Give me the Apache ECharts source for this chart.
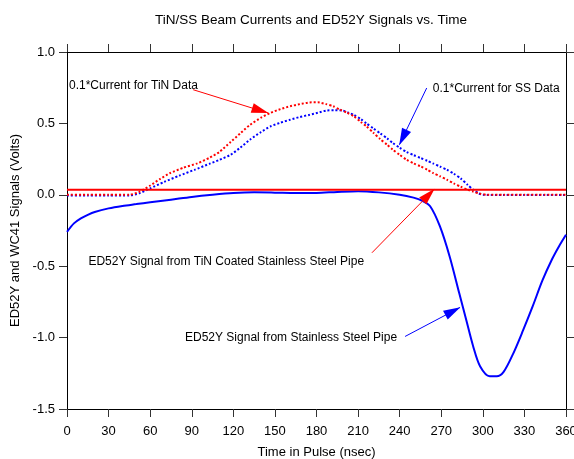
<!DOCTYPE html>
<html lang="en">
<head>
    <meta charset="UTF-8">
    <title>TiN/SS Beam Currents</title>
    <script type="text/javascript" src="https://cdn.jsdelivr.net/npm/echarts@6/dist/echarts.min.js"></script>
    <style>
      html, body { margin: 0; padding: 0; background: #fff; }
      #chart { width: 574px; height: 459px; }
    </style>
</head>
<body>

  <div id="chart"></div>

<script type="text/javascript">

  // 横轴刻度
  var timeTicks = [0, 30, 60, 90, 120, 150, 180, 210, 240, 270, 300, 330, 360];

  // ED52Y signal, stainless steel pipe
  var ssSignalTime = [0, 5, 10, 15, 20, 30, 40, 50, 60, 75, 90, 105, 120, 135, 150, 165, 180, 195, 210, 225, 240, 250, 256, 262, 269, 276, 283, 288, 293, 298, 305, 310, 315, 322, 329, 336, 343, 350, 355, 360];
  var ssSignal = [-0.26, -0.2, -0.165, -0.14, -0.12, -0.095, -0.078, -0.065, -0.052, -0.034, -0.015, 0.0, 0.012, 0.017, 0.015, 0.012, 0.013, 0.02, 0.025, 0.017, 0.0, -0.02, -0.04, -0.08, -0.22, -0.43, -0.69, -0.875, -1.06, -1.2, -1.27, -1.27, -1.24, -1.11, -0.95, -0.78, -0.6, -0.45, -0.36, -0.28];

  // ED52Y signal, TiN coated pipe
  var tinSignalTime = [0, 60, 120, 180, 240, 300, 360];
  var tinSignal = [0.035, 0.035, 0.035, 0.035, 0.035, 0.035, 0.035];

  // 0.1*current, TiN
  var tinCurrentTime = [0, 15, 30, 45, 52, 60, 67, 74, 84, 94, 103, 110, 118, 125, 132, 140, 147, 154, 161, 168, 175, 181, 187, 192, 197, 202, 207, 212, 216, 221, 226, 231, 235, 240, 245, 250, 255, 260, 264, 269, 274, 279, 284, 289, 293, 298, 303, 315, 330, 345, 360];
  var tinCurrent = [0.0, 0.0, 0.0, 0.0, 0.02, 0.065, 0.11, 0.15, 0.19, 0.22, 0.26, 0.30, 0.37, 0.43, 0.49, 0.54, 0.575, 0.60, 0.62, 0.635, 0.647, 0.648, 0.635, 0.62, 0.596, 0.575, 0.55, 0.51, 0.48, 0.435, 0.39, 0.35, 0.316, 0.28, 0.246, 0.22, 0.2, 0.175, 0.153, 0.13, 0.106, 0.08, 0.057, 0.035, 0.022, 0.008, 0.0, 0.0, 0.0, 0.0, 0.0];

  // 0.1*current, SS
  var ssCurrentTime = [0, 15, 30, 45, 52, 60, 70, 81, 92, 103, 110, 118, 125, 132, 140, 147, 154, 161, 168, 175, 181, 187, 193, 199, 203, 207, 212, 216, 221, 226, 231, 235, 240, 245, 250, 255, 260, 264, 269, 274, 279, 284, 289, 293, 297, 300, 315, 330, 345, 360];
  var ssCurrent = [-0.005, -0.005, -0.005, -0.005, 0.01, 0.045, 0.09, 0.134, 0.175, 0.218, 0.245, 0.28, 0.33, 0.386, 0.44, 0.48, 0.505, 0.526, 0.545, 0.56, 0.575, 0.59, 0.592, 0.59, 0.575, 0.56, 0.53, 0.50, 0.465, 0.43, 0.395, 0.363, 0.33, 0.30, 0.278, 0.258, 0.238, 0.22, 0.198, 0.176, 0.148, 0.115, 0.07, 0.036, 0.01, 0.0, -0.002, -0.002, -0.002, -0.002];

  // 注释文字和箭头 (data coords)
  var noteTexts = ['0.1*Current for TiN Data', '0.1*Current for SS Data', 'ED52Y Signal from TiN Coated Stainless Steel Pipe', 'ED52Y Signal from Stainless Steel Pipe'];
  var noteAt = [[1.4, 0.764], [263.9, 0.741], [15.4, -0.466], [85.1, -0.999]];
  var arrowFrom = [[91, 0.736], [259.5, 0.748], [220, -0.406], [243.9, -0.992]];
  var arrowTo = [[145, 0.573], [239.8, 0.351], [265, 0.04], [283.5, -0.789]];
  var arrowColor = ['#ff0000', '#0000ff', '#ff0000', '#0000ff'];

  function pairs(xs, ys){
    var out = [];
    for (var i = 0; i < xs.length; i++) {
      out.push([xs[i], ys[i]]);
    }
    return out;
  }

  var FONT = 'Liberation Sans, Arial, sans-serif';

  var arrowLines = [];
  for (var i = 0; i < arrowFrom.length; i++) {
    arrowLines.push([
      {coord: arrowFrom[i], lineStyle: {color: arrowColor[i], width: 1, type: 'solid'}},
      {coord: arrowTo[i]}
    ]);
  }

  var notePoints = [];
  for (var j = 0; j < noteTexts.length; j++) {
    notePoints.push({coord: noteAt[j], value: noteTexts[j]});
  }

  var myChart = echarts.init(document.getElementById('chart'));

  var axisCommon = {
    type: 'value',
    axisLine: {show: true, onZero: false, lineStyle: {color: '#000', width: 1}},
    axisTick: {show: true, inside: false, length: 8, lineStyle: {color: '#333'}},
    splitLine: {show: false}
  };

  var option = {
    animation: false,
    textStyle: {fontFamily: FONT},
    title: {
      text: 'TiN/SS Beam Currents and ED52Y Signals vs. Time',
      left: 306,
      top: 8,
      textAlign: 'center',
      textStyle: {fontSize: 13.5, fontWeight: 'normal', color: '#000', fontFamily: FONT}
    },
    grid: {left: 67, right: 8, top: 52, bottom: 50, outerBoundsMode: 'none', containLabel: false},
    xAxis: [
      Object.assign({}, axisCommon, {
        min: 0, max: 360, interval: 30,
        name: 'Time in Pulse (nsec)',
        nameLocation: 'middle',
        nameGap: 37,
        nameTextStyle: {fontSize: 13, color: '#000', fontFamily: FONT},
        axisLabel: {
          fontSize: 13, color: '#000', margin: 16, fontFamily: FONT,
          formatter: function (v) { return timeTicks.indexOf(v) >= 0 ? String(v) : ''; }
        }
      }),
      Object.assign({}, axisCommon, {
        position: 'top', min: 0, max: 360, interval: 30,
        axisLabel: {show: false}
      })
    ],
    yAxis: [
      Object.assign({}, axisCommon, {
        min: -1.5, max: 1.0, interval: 0.5,
        name: 'ED52Y and WC41 Signals (Volts)',
        nameLocation: 'middle',
        nameGap: 44,
        nameTextStyle: {fontSize: 13, color: '#000', fontFamily: FONT},
        axisLabel: {
          fontSize: 13, color: '#000', margin: 12, fontFamily: FONT,
          formatter: function (v) { return v.toFixed(1); }
        }
      }),
      Object.assign({}, axisCommon, {
        position: 'right', min: -1.5, max: 1.0, interval: 0.5,
        axisLabel: {show: false}
      })
    ],
    series: [
      {
        name: 'SS current',
        type: 'line',
        data: pairs(ssCurrentTime, ssCurrent),
        showSymbol: false,
        smooth: 0.2,
        lineStyle: {color: '#0000ff', width: 2, type: 'dotted'},
        z: 2
      },
      {
        name: 'TiN current',
        type: 'line',
        data: pairs(tinCurrentTime, tinCurrent),
        showSymbol: false,
        smooth: 0.2,
        lineStyle: {color: '#ff0000', width: 2, type: 'dotted'},
        z: 3
      },
      {
        name: 'SS signal',
        type: 'line',
        data: pairs(ssSignalTime, ssSignal),
        showSymbol: false,
        smooth: 0.3,
        lineStyle: {color: '#0000ff', width: 2},
        z: 4
      },
      {
        name: 'TiN signal',
        type: 'line',
        data: pairs(tinSignalTime, tinSignal),
        showSymbol: false,
        lineStyle: {color: '#ff0000', width: 2},
        z: 5,
        markLine: {
          silent: true,
          symbol: ['none', 'triangle'],
          symbolSize: [10, 17],
          symbolOffset: [0, [0, 8]],
          label: {show: false},
          emphasis: {disabled: true},
          data: arrowLines
        },
        markPoint: {
          silent: true,
          symbol: 'circle',
          symbolSize: 0.1,
          itemStyle: {color: 'rgba(0,0,0,0)'},
          label: {
            show: true,
            position: 'right',
            distance: 0,
            color: '#000',
            fontSize: 12,
            fontFamily: FONT,
            formatter: function (p) { return p.value; }
          },
          data: notePoints
        }
      }
    ]
  };

  myChart.setOption(option);

</script>
</body>
</html>
